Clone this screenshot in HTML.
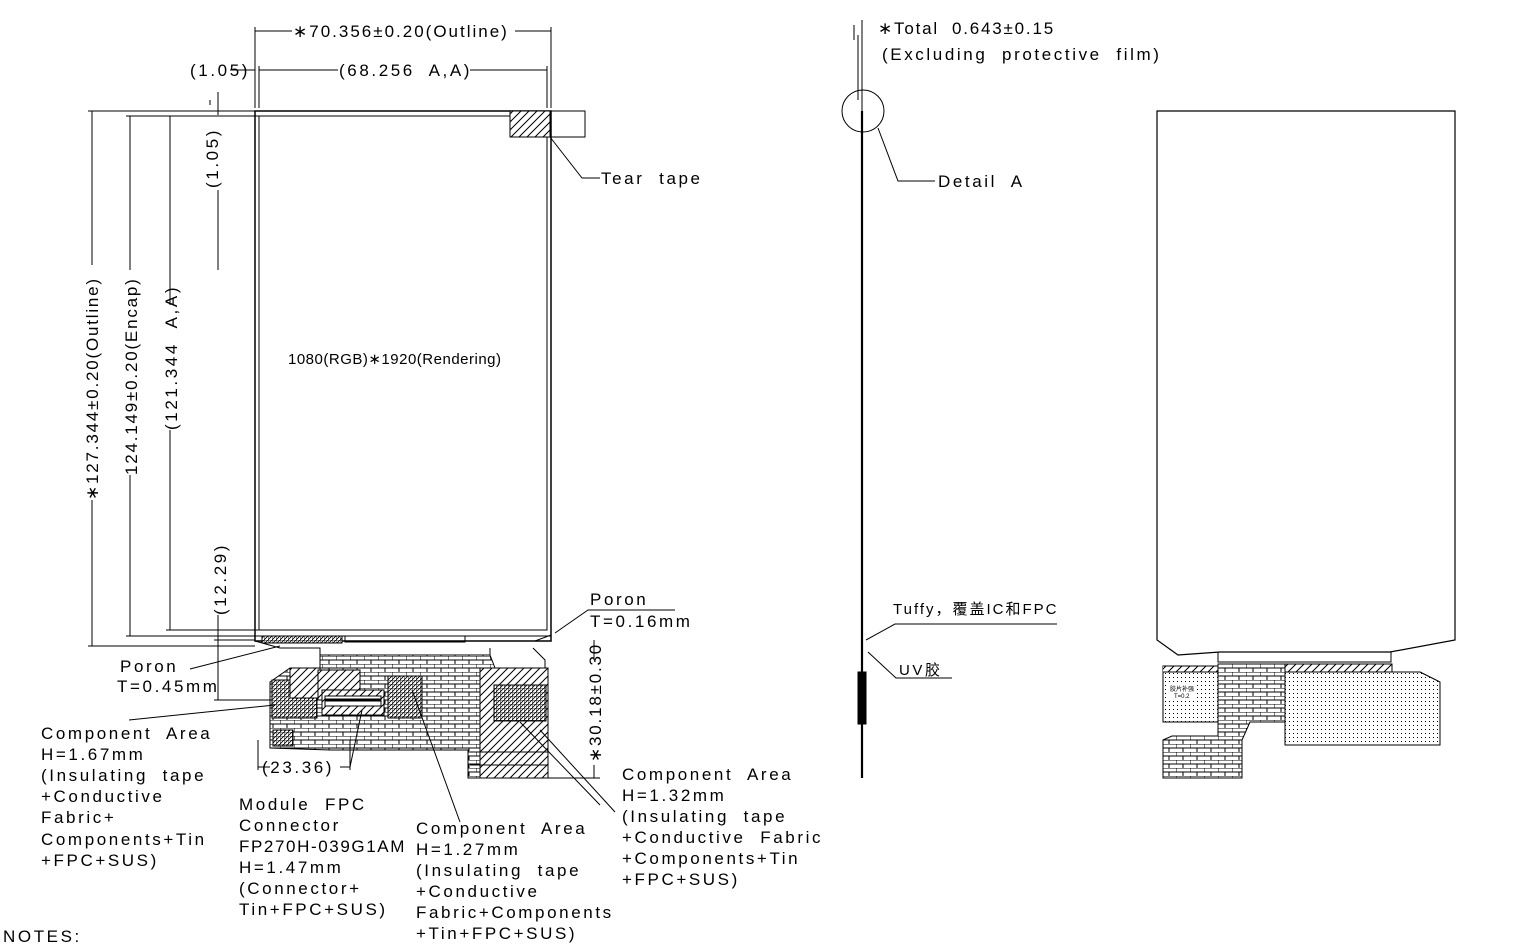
<!DOCTYPE html>
<html><head><meta charset="utf-8"><style>
html,body{margin:0;padding:0;background:#fff;}
svg{display:block}
text{font-family:"Liberation Sans","Noto Sans CJK SC",sans-serif;fill:#000;font-size:17px;letter-spacing:2.6px;white-space:pre}
</style></head><body>
<svg width="1528" height="952" viewBox="0 0 1528 952" xmlns="http://www.w3.org/2000/svg">
<defs>
<pattern id="hat" width="8" height="8" patternUnits="userSpaceOnUse"><rect width="8" height="8" fill="#fff"/><path d="M0 8L8 0M-2 2L2 -2M6 10L10 6" stroke="#000" stroke-width="1"/></pattern>
<pattern id="brick" width="14" height="8" patternUnits="userSpaceOnUse"><rect width="14" height="8" fill="#fff"/><path d="M0 0H14M0 4H14M0 0V4M7 4V8" stroke="#000" stroke-width="1"/></pattern>
<pattern id="dot" width="4" height="4" patternUnits="userSpaceOnUse"><rect width="4" height="4" fill="#fff"/><rect x="1" y="1" width="1" height="1" fill="#000"/></pattern>
<pattern id="grid" width="4" height="4" patternUnits="userSpaceOnUse"><rect width="4" height="4" fill="#fff"/><path d="M0 0H4M0 0V4M0 4L4 0" stroke="#000" stroke-width="0.8"/></pattern>
</defs>
<g stroke="#000" fill="none" stroke-width="1">
<rect x="255" y="111" width="296" height="530" stroke-width="1.5"/>
<rect x="259" y="116" width="288" height="514"/>
<rect x="510" y="111" width="40" height="26" fill="url(#hat)"/>
<rect x="550" y="111" width="35" height="26"/>
<path d="M255 636H551M262 641H550"/>
<rect x="262" y="636" width="80" height="7" fill="url(#grid)"/>
<rect x="345" y="636" width="120" height="6"/>
<path d="M255 641L280 648H320V668M490 648V668M470 641H535L551 635M533 648L545 660V668"/>
<path d="M320 655H490L495 668H548V750H548V778H468V750H330L270 748V682L290 668H320Z" fill="url(#brick)"/>
<rect x="272" y="680" width="45" height="38" fill="url(#grid)"/>
<rect x="290" y="668" width="30" height="30" fill="url(#hat)"/>
<rect x="318" y="670" width="42" height="30" fill="url(#hat)"/>
<rect x="322" y="690" width="62" height="25" fill="url(#hat)"/>
<rect x="325" y="696" width="56" height="10" fill="#fff"/>
<path d="M325 700H381" stroke-width="3"/>
<rect x="388" y="676" width="34" height="42" fill="url(#grid)"/>
<rect x="273" y="730" width="20" height="16" fill="url(#grid)"/>
<rect x="480" y="668" width="68" height="110" fill="url(#hat)"/>
<rect x="494" y="685" width="52" height="36" fill="url(#grid)"/>
<path d="M470 752H548M470 765H548"/>
<path d="M255 27V108M551 27V108M259 66V108M547 66V108"/>
<path d="M255 31H292M515 31H551M259 70H338M470 70H547M230 70H255"/>
<path d="M88 111H255M126 116H255M166 116H259M88 646H255M126 636H255M166 630H259M214 640H255M214 700H270"/>
<path d="M92 111V265M92 500V646M130 116V270M130 475V636M170 116V305M170 430V630M218 92V115M218 190V270M218 615V700M210 100V105"/>
<path d="M258 740V770M258 767H270M340 767H350M350 740V770"/>
<path d="M594 640V660M594 765V778M548 778H600"/>
<path d="M550 137L582 178H600M555 633L588 610H675M190 669L280 646M129 720L275 705M350 767L362 710M460 822L412 690M615 812L540 730M600 805L520 722"/>
<path d="M862 20V111M854 25V40M858 35V100"/>
<path d="M862 111V778" stroke-width="2.2"/>
<circle cx="863" cy="111" r="21"/>
<path d="M878 128L898 181H935M866 640L895 624H1057M868 652L896 678H952"/>
<rect x="858" y="672" width="8" height="52" fill="#000"/>
<path d="M1157 111H1455V640L1390 652H1220L1178 655L1157 640Z" stroke-width="1.2"/>
<rect x="1163" y="666" width="55" height="56" fill="url(#dot)"/>
<path d="M1163 666H1218V672H1163" fill="url(#hat)"/>
<path d="M1218 652H1391V662H1218Z"/>
<path d="M1218 664H1390L1392 672H1420L1440 682V745H1285V722H1250L1242 740V778H1163V740L1172 736H1218Z" fill="url(#brick)"/>
<path d="M1285 672H1392V664H1285Z" fill="url(#hat)"/>
<path d="M1285 672H1420L1440 682V745H1285Z" fill="url(#dot)"/>
</g>
<rect x="1168" y="684" width="26" height="14" fill="#fff"/>
<text x="1170" y="691" style="font-size:6px;letter-spacing:0">胶片补强</text>
<text x="1174" y="698" style="font-size:6px;letter-spacing:0">T=0.2</text>
<text x="293" y="37" style="letter-spacing:2px">∗70.356±0.20(Outline)</text>
<text x="190" y="76">(1.05)</text>
<text x="339" y="76">(68.256  A,A)</text>
<text x="601" y="184">Tear  tape</text>
<text x="288" y="364" style="font-size:15px;letter-spacing:0.5px">1080(RGB)∗1920(Rendering)</text>
<text x="590" y="605">Poron</text>
<text x="590" y="627">T=0.16mm</text>
<text x="120" y="672">Poron</text>
<text x="117" y="692">T=0.45mm</text>
<text x="262" y="773">(23.36)</text>
<text x="41" y="739">Component  Area</text>
<text x="41" y="760">H=1.67mm</text>
<text x="41" y="781">(Insulating  tape</text>
<text x="41" y="802">+Conductive</text>
<text x="41" y="823">Fabric+</text>
<text x="41" y="845">Components+Tin</text>
<text x="41" y="866">+FPC+SUS)</text>
<text x="239" y="810">Module  FPC</text>
<text x="239" y="831">Connector</text>
<text x="239" y="852" style="letter-spacing:1.6px">FP270H-039G1AM</text>
<text x="239" y="873">H=1.47mm</text>
<text x="239" y="894">(Connector+</text>
<text x="239" y="915">Tin+FPC+SUS)</text>
<text x="416" y="834">Component  Area</text>
<text x="416" y="855">H=1.27mm</text>
<text x="416" y="876">(Insulating  tape</text>
<text x="416" y="897">+Conductive</text>
<text x="416" y="918">Fabric+Components</text>
<text x="416" y="939">+Tin+FPC+SUS)</text>
<text x="622" y="780">Component  Area</text>
<text x="622" y="801">H=1.32mm</text>
<text x="622" y="822">(Insulating  tape</text>
<text x="622" y="843">+Conductive  Fabric</text>
<text x="622" y="864">+Components+Tin</text>
<text x="622" y="885">+FPC+SUS)</text>
<text x="3" y="942">NOTES:</text>
<text x="878" y="34" style="letter-spacing:1.8px">∗Total  0.643±0.15</text>
<text x="882" y="60">(Excluding  protective  film)</text>
<text x="938" y="187">Detail  A</text>
<text x="893" y="614" style="font-size:15px;letter-spacing:2px">Tuffy，覆盖IC和FPC</text>
<text x="899" y="675" style="font-size:15px">UV胶</text>
<text transform="translate(98,500) rotate(-90)" style="letter-spacing:1.8px">∗127.344±0.20(Outline)</text>
<text transform="translate(137,475) rotate(-90)" style="letter-spacing:1.8px">124.149±0.20(Encap)</text>
<text transform="translate(177,430) rotate(-90)">(121.344  A,A)</text>
<text transform="translate(218,188) rotate(-90)">(1.05)</text>
<text transform="translate(226,615) rotate(-90)">(12.29)</text>
<text transform="translate(601,762) rotate(-90)" style="letter-spacing:1.8px">∗30.18±0.30</text>
</svg>
</body></html>
